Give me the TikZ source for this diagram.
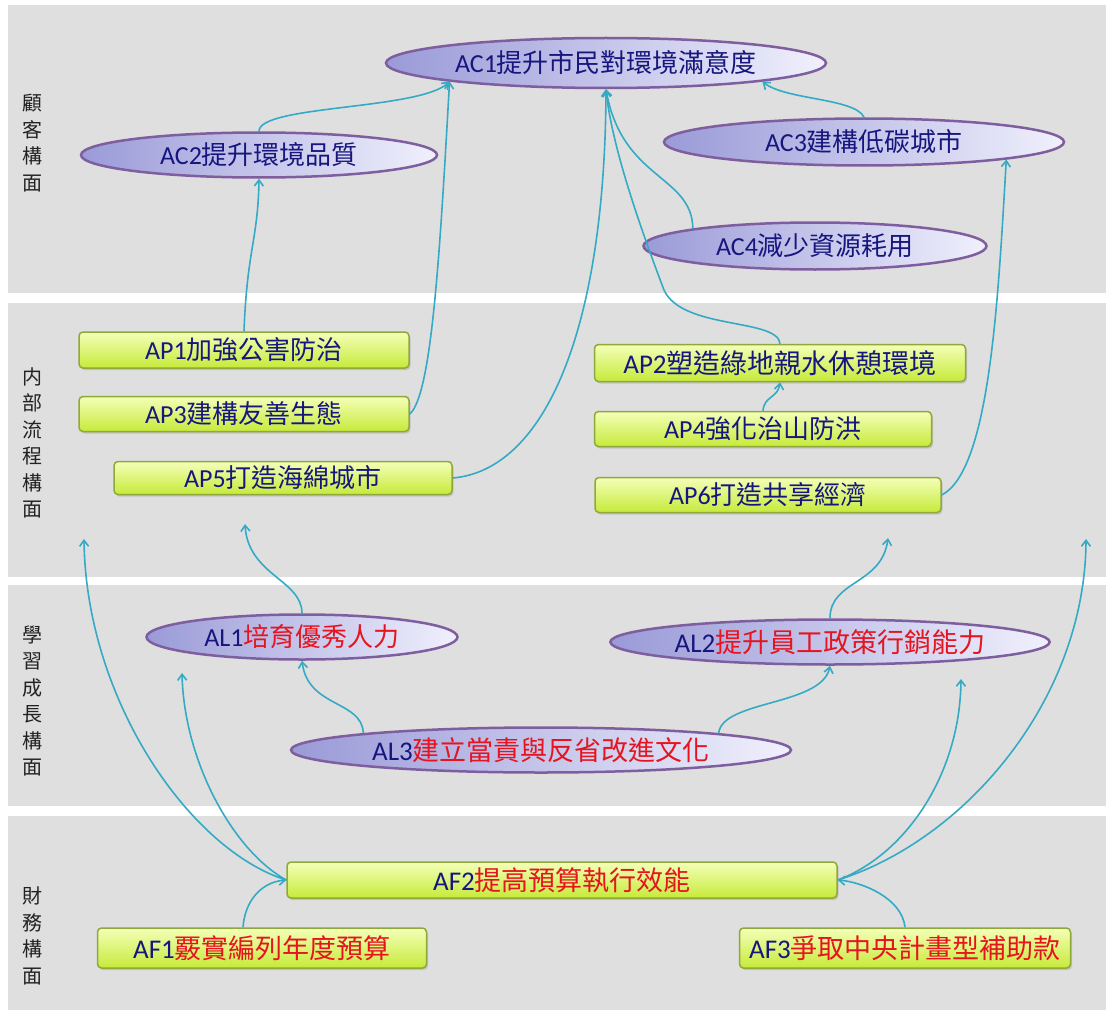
\documentclass[tikz,border=0pt]{standalone}
\usepackage{fontspec}
\setmainfont{Carlito}
\newfontfamily\cjk{Noto Sans CJK TC}
\usetikzlibrary{arrows.meta,shapes.geometric,shadows}

\definecolor{bandgray}{HTML}{DFDFDF}
\definecolor{navy}{HTML}{16167E}
\definecolor{redtxt}{HTML}{E6141E}
\definecolor{sidegray}{HTML}{222222}
\definecolor{linkblue}{HTML}{35AAC4}
\definecolor{ovalline}{HTML}{7E5E9E}
\definecolor{ovalleft}{HTML}{9A9AD8}
\definecolor{ovalright}{HTML}{F0F0FD}
\definecolor{boxline}{HTML}{8FA83A}
\definecolor{boxtop}{HTML}{F4FFB8}
\definecolor{boxbot}{HTML}{C6EA3A}

\newcommand\fs{\fontsize{26pt}{30pt}\selectfont}
\newcommand\fb{\fontsize{27pt}{31pt}\selectfont}
\newcommand\sidefont{\cjk\fontsize{20pt}{26.5pt}\selectfont}
\newcommand\lab[2]{\textcolor{navy}{#1}{\cjk\textcolor{navy}{#2}}}
\newcommand\labr[2]{\textcolor{navy}{#1}{\cjk\textcolor{redtxt}{#2}}}

\tikzset{
  band/.style={fill=bandgray},
  oval/.style={ellipse, draw=ovalline, line width=2.5pt, left color=ovalleft,
    right color=ovalright, inner sep=0pt, font=\fs},
  goal/.style={rectangle, rounded corners=4pt, draw=boxline, line width=1.5pt,
    top color=boxtop, bottom color=boxbot, inner sep=0pt, font=\fs,
    drop shadow={opacity=0.3, shadow xshift=1.5pt, shadow yshift=-2pt}},
  side/.style={font=\sidefont, align=center, text=sidegray},
  link/.style={draw=linkblue, line width=1.6pt, -{Straight Barb[length=6pt,width=9pt]}}
}

\begin{document}
\begin{tikzpicture}[x=1pt, y=-1pt]
        \useasboundingbox (0,0) rectangle (1111,1014);

        % Four perspective bands
        \fill[band] (8,5) rectangle (1106,293);
        \fill[band] (8,303) rectangle (1106,577);
        \fill[band] (8,585) rectangle (1106,806);
        \fill[band] (8,816) rectangle (1106,1010);

        \node[side] (s1) at (32,143) {顧\\客\\構\\面};
        \node[side] (s2) at (32,443) {内\\部\\流\\程\\構\\面};
        \node[side] (s3) at (32,701) {學\\習\\成\\長\\構\\面};
        \node[side] (s4) at (32,936) {財\\務\\構\\面};

        % Customer
        \node[oval, minimum width=440pt, minimum height=50pt] (ac1) at (606,63) {\lab{AC1}{提升市民對環境滿意度}};
        \node[oval, minimum width=356pt, minimum height=45pt] (ac2) at (259,155) {\lab{AC2}{提升環境品質}};
        \node[oval, minimum width=400pt, minimum height=47pt] (ac3) at (864,142) {\lab{AC3}{建構低碳城市}};
        \node[oval, minimum width=343pt, minimum height=47pt] (ac4) at (815,246) {\lab{AC4}{減少資源耗用}};

        % Internal process
        \node[goal, minimum width=330pt, minimum height=36pt] (ap1) at (244,350) {\lab{AP1}{加強公害防治}};
        \node[goal, minimum width=330pt, minimum height=35pt] (ap3) at (244,414) {\lab{AP3}{建構友善生態}};
        \node[goal, minimum width=338pt, minimum height=33pt] (ap5) at (283,478) {\lab{AP5}{打造海綿城市}};
        \node[goal, minimum width=371pt, minimum height=37pt, font=\fb] (ap2) at (780,363) {\lab{AP2}{塑造綠地親水休憩環境}};
        \node[goal, minimum width=337pt, minimum height=35pt] (ap4) at (763,429) {\lab{AP4}{強化治山防洪}};
        \node[goal, minimum width=346pt, minimum height=35pt] (ap6) at (768,495) {\lab{AP6}{打造共享經濟}};

        % Learning and growth
        \node[oval, minimum width=311pt, minimum height=45pt] (al1) at (302,637) {\labr{AL1}{培育優秀人力}};
        \node[oval, minimum width=431pt, minimum height=45pt, font=\fb] (al2) at (830,642) {\labr{AL2}{提升員工政策行銷能力}};
        \node[oval, minimum width=500pt, minimum height=45pt, font=\fb] (al3) at (541,750) {\labr{AL3}{建立當責與反省改進文化}};

        % Financial
        \node[goal, minimum width=550pt, minimum height=36pt, font=\fb] (af2) at (562,880) {\labr{AF2}{提高預算執行效能}};
        \node[goal, minimum width=329pt, minimum height=40pt, font=\fb] (af1) at (262,948) {\labr{AF1}{覈實編列年度預算}};
        \node[goal, minimum width=331pt, minimum height=40pt, font=\fb] (af3) at (905,948) {\labr{AF3}{爭取中央計畫型補助款}};

        % Free arrow ends
        \coordinate (t1) at (84,539);
        \coordinate (t2) at (182,673);
        \coordinate (t3) at (961,679);
        \coordinate (t4) at (1086,539);
        \coordinate (t5) at (245,524);
        \coordinate (t6) at (888,538);

        % Links into customer goals
        \draw[link] (ac2.north) .. controls (259,105) and (420,110) .. (ac1.south west);
        \draw[link] (ap1.north) .. controls (247,250) and (258,240) .. (ac2.south);
        \draw[link] (ap3.east) .. controls (432,395) and (440,250) .. (ac1.south west);
        \draw[link] (ap5.east) .. controls (545,470) and (605,330) .. (ac1.south);
        \draw[link] (ap2.north) .. controls (778,318) and (682,330) .. (664,290) .. controls (645,240) and (612,150) .. (ac1.south);
        \draw[link] (ac4.north west) .. controls (692,175) and (622,180) .. (ac1.south);
        \draw[link] (ac3.north) .. controls (855,98) and (785,100) .. (ac1.south east);
        \draw[link] (ap6.east) .. controls (990,470) and (998,300) .. (ac3.south east);
        \draw[link] (ap4.north) .. controls (764,396) and (778,398) .. (ap2.south);

        % Learning links
        \draw[link] (al1.north) .. controls (302,580) and (248,575) .. (t5);
        \draw[link] (al3.north west) .. controls (362,700) and (308,708) .. (al1.south);
        \draw[link] (al3.north east) .. controls (722,700) and (822,706) .. (al2.south);
        \draw[link] (al2.north) .. controls (830,580) and (882,585) .. (t6);

        % Financial links
        \draw[link] ([xshift=-19pt]af1.north) .. controls (245,900) and (262,882) .. (af2.west);
        \draw[link] (af3.north) .. controls (902,898) and (862,882) .. (af2.east);
        \draw[link] (af2.west) .. controls (190,850) and (86,700) .. (t1);
        \draw[link] (af2.west) .. controls (232,850) and (184,760) .. (t2);
        \draw[link] (af2.east) .. controls (905,855) and (960,775) .. (t3);
        \draw[link] (af2.east) .. controls (965,840) and (1085,700) .. (t4);
    \end{tikzpicture}
\end{document}
